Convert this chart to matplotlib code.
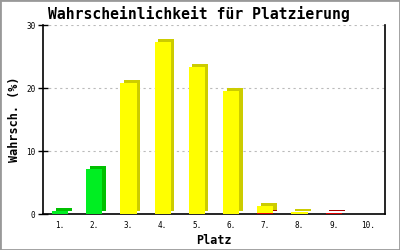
import numpy as np
import matplotlib
matplotlib.use("Agg")
import matplotlib.pyplot as plt
from matplotlib.transforms import ScaledTranslation
from matplotlib.patches import Rectangle

# data
places = ["1.", "2.", "3.", "4.", "5.", "6.", "7.", "8.", "9.", "10."]
green = [0.5, 7.1, 0, 0, 0, 0, 0, 0, 0, 0]
yellow = [0, 0, 20.8, 27.3, 23.4, 19.6, 1.2, 0.2, 0, 0]
red = [0, 0, 0, 0, 0, 0, 0.1, 0.05, 0.15, 0]

FONT = "DejaVu Sans Mono"

fig = plt.figure(figsize=(4, 2.5), dpi=100)
ax = fig.add_axes([43 / 400, 36 / 250, 342 / 400, 188.7 / 250])

x = np.arange(len(places))
width = 0.47
shift = ax.transData + ScaledTranslation(3.5 / 100, 3 / 100, fig.dpi_scale_trans)

series = [
    (red, "#dd0000", "#aa0000"),
    (yellow, "#ffff00", "#cccc00"),
    (green, "#00ee22", "#00c000"),
]

# side/top faces first, then the front faces
bottom = np.zeros(len(places))
for vals, front, side in series:
    vals = np.array(vals)
    ax.bar(x, vals, width, bottom=bottom, color=side, transform=shift,
           zorder=2, linewidth=0)
    bottom = bottom + vals

bottom = np.zeros(len(places))
for vals, front, side in series:
    vals = np.array(vals)
    ax.bar(x, vals, width, bottom=bottom, color=front, zorder=3, linewidth=0)
    bottom = bottom + vals

ax.set_xlim(-0.5, 9.5)
ax.set_ylim(0, 30)
ax.set_yticks([0, 10, 20, 30])
ax.set_xticks(x)
ax.set_xticklabels(places)
ax.yaxis.grid(True, linestyle=(0, (2, 3)), color="#bbbbbb", linewidth=0.8)
ax.set_axisbelow(True)

for lab in ax.get_xticklabels() + ax.get_yticklabels():
    lab.set_fontfamily(FONT)
    lab.set_fontsize(5.5)
ax.tick_params(axis="x", length=0, pad=5)
ax.tick_params(axis="y", direction="inout", length=7, width=1, pad=2)

ax.spines["top"].set_visible(False)
for s in ["left", "bottom", "right"]:
    ax.spines[s].set_linewidth(1.2)
    ax.spines[s].set_color("black")

fig.text(198.5 / 400, 1 - 14 / 250, "Wahrscheinlichkeit für Platzierung",
         fontfamily=FONT, fontsize=10.6, fontweight="bold",
         ha="center", va="center")
ax.set_xlabel("Platz", fontfamily=FONT, fontsize=8.5, fontweight="bold",
              labelpad=3)
ax.set_ylabel("Wahrsch. (%)", fontfamily=FONT, fontsize=8.5, fontweight="bold",
              labelpad=4)

fig.patches.append(Rectangle((0, 0), 1, 1, transform=fig.transFigure,
                             fill=False, edgecolor="#999999", linewidth=2))

fig.savefig("out.png", dpi=100)
